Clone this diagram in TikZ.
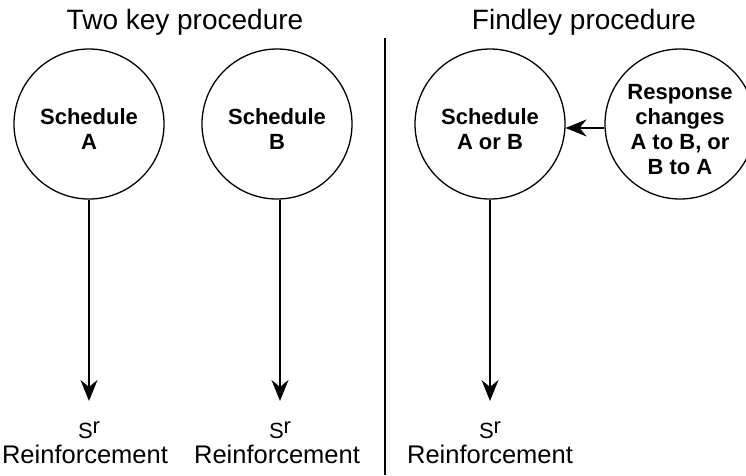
\documentclass[tikz,border=0pt]{standalone}
\usepackage{fontspec}
\setmainfont{Liberation Sans}
\usetikzlibrary{arrows.meta}

\tikzset{
  ring/.style={circle, draw, line width=1.3pt, minimum size=150pt, inner sep=0pt},
  boldtxt/.style={align=center, font=\fontsize{22}{25}\selectfont\bfseries, inner sep=0pt},
  title/.style={anchor=base, font=\fontsize{28}{30}\selectfont, inner sep=0pt},
  srtxt/.style={anchor=base, font=\fontsize{22}{24}\selectfont, inner sep=0pt},
  reinf/.style={anchor=base, font=\fontsize{25.5}{28}\selectfont, inner sep=0pt},
  flow/.style={line width=1.5pt, -{Stealth[length=21pt, width=17pt, inset=7pt]}},
}

\begin{document}
\begin{tikzpicture}[x=1pt, y=-1pt]
  \useasboundingbox (0,0) rectangle (746,475);
  \clip (0,0) rectangle (746,475);

  % headings
  \node[title] (t1) at (185,29) {Two key procedure};
  \node[title] (t2) at (584,29) {Findley procedure};

  % divider between the two procedures
  \coordinate (dtop) at (385,38);
  \coordinate (dbot) at (385,475);
  \draw[line width=2.5pt] (dtop) -- (dbot);

  % schedules
  \node[ring] (A)  at (89,124)  {};
  \node[ring] (B)  at (277,124) {};
  \node[ring] (AB) at (490,124) {};
  \node[ring] (R)  at (680,124) {};

  \node[boldtxt] (At)  at (89,129)  {Schedule\\A};
  \node[boldtxt] (Bt)  at (277,129) {Schedule\\B};
  \node[boldtxt] (ABt) at (490,129) {Schedule\\A or B};
  \node[boldtxt] (Rt)  at (680,129.5) {Response\\changes\\A to B, or\\B to A};

  % reinforcers
  \node[srtxt] (SA)  at (89,438)  {S\raisebox{5pt}{r}};
  \node[srtxt] (SB)  at (280,438) {S\raisebox{5pt}{r}};
  \node[srtxt] (SAB) at (490,438) {S\raisebox{5pt}{r}};

  \node[reinf] (RA)  at (85,463)  {Reinforcement};
  \node[reinf] (RB)  at (277,463) {Reinforcement};
  \node[reinf] (RAB) at (490,463) {Reinforcement};

  % connectors
  \draw[flow, shorten >=20pt] (A.south -| SA.north)  -- (SA.north);
  \draw[flow, shorten >=20pt] (B.south -| SB.north)  -- (SB.north);
  \draw[flow, shorten >=20pt] (AB.south -| SAB.north) -- (SAB.north);
  \draw[flow] (R.183.8) -- (AB.-3.8);
\end{tikzpicture}
\end{document}
